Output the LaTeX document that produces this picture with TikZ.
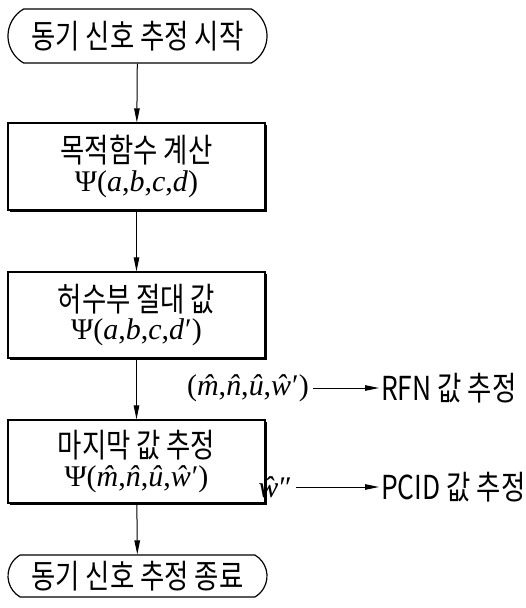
\documentclass[tikz,border=0pt]{standalone}
\usepackage{fontspec}
\newfontfamily\kr[FakeStretch=0.8]{Noto Sans CJK KR}
\newfontfamily\tms{Liberation Serif}
\newcommand{\vi}[1]{\textit{#1}}
\newcommand{\vh}[1]{\textit{\accent"02C6 #1}}
\newcommand{\pr}{\kern1pt′}
\newcommand{\ppr}{\kern1pt″}
\newcommand{\ktext}{\kr\fontsize{33}{36}\selectfont}
\newcommand{\mtext}{\tms\fontsize{30}{32}\selectfont}
\usetikzlibrary{arrows.meta,shapes.misc,shadows}
\begin{document}
\begin{tikzpicture}[x=1pt,y=-1pt,
  term/.style={draw, line width=1.2pt, rounded rectangle, rounded rectangle arc length=120, minimum width=259pt, font=\ktext, inner sep=0pt},
  procbox/.style={draw, line width=1.2pt, fill=white, minimum width=257pt, align=center, inner sep=0pt,
     general shadow={fill=black, shadow xshift=2.2pt, shadow yshift=-2.2pt}},
  arr/.style={line width=1pt, -{Triangle[length=14pt,width=5.5pt]}},
  sidelbl/.style={font=\ktext, inner sep=2pt},
  mathlbl/.style={font=\mtext, inner sep=4pt}
]
\useasboundingbox (0,0) rectangle (525,608);
\node[term, minimum height=54pt] (start) at (137.5,36) {동기 신호 추정 시작};
\node[procbox, minimum height=87pt] (b1) at (136.5,166.5)
  {{\ktext 목적함수 계산}\\[4pt]{\mtext Ψ(\vi{a},\vi{b},\vi{c},\vi{d})}};
\node[procbox, minimum height=86pt] (b2) at (136.5,315)
  {{\ktext 허수부 절대 값}\\[4pt]{\mtext Ψ(\vi{a},\vi{b},\vi{c},\vi{d}\pr)}};
\node[procbox, minimum height=83pt] (b3) at (136.5,461.5)
  {{\ktext 마지막 값 추정}\\[4pt]{\mtext Ψ(\vh{m},\vh{n},\vh{u},\vh{w}\pr)}};
\node[term, minimum height=42pt] (end) at (137.5,576) {동기 신호 추정 종료};
\draw[arr] (start) -- (b1);
\draw[arr] (b1) -- (b2);
\draw[arr] (b2) -- (b3);
\draw[arr] (b3) -- (end);
\node[mathlbl, anchor=east] (l1) at (313,388) {(\vh{m},\vh{n},\vh{u},\vh{w}\pr)};
\node[sidelbl, anchor=west] (r1) at (379,388) {RFN 값 추정};
\draw[arr] (l1) -- (r1);
\node[mathlbl, anchor=east] (l2) at (296,487) {\vh{w}\ppr};
\node[sidelbl, anchor=west] (r2) at (379,487) {PCID 값 추정};
\draw[arr] (l2) -- (r2);
\end{tikzpicture}
\end{document}
